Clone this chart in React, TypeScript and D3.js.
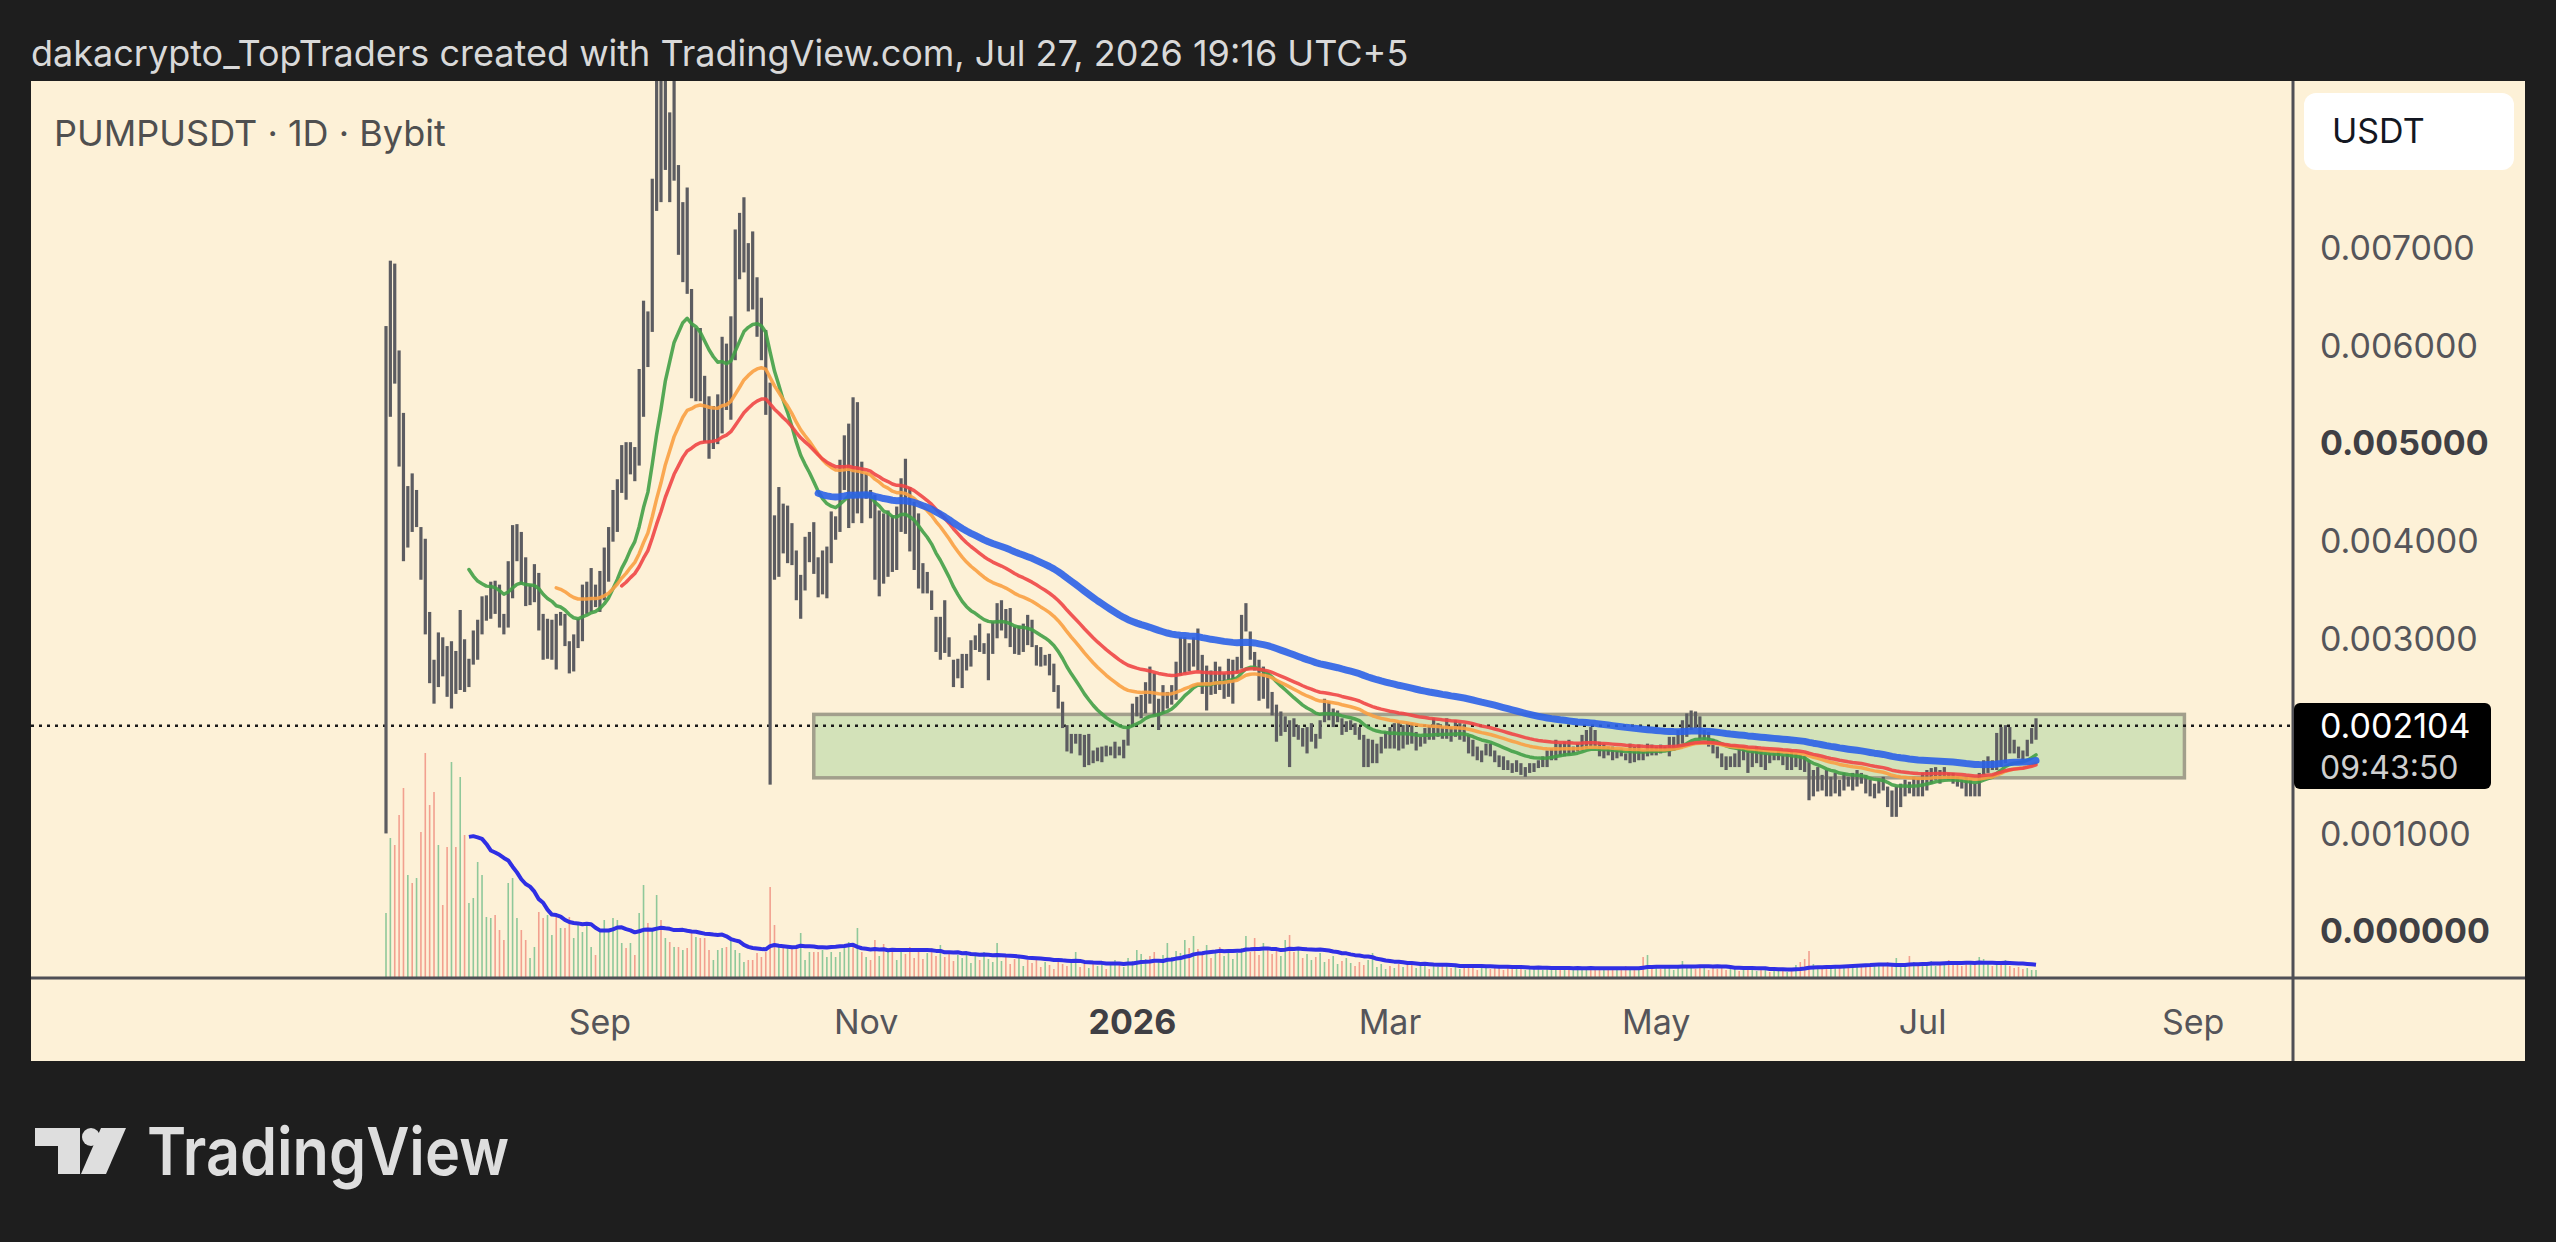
import React, { useRef, useEffect } from "react";
import * as d3 from "d3";

// PUMPUSDT 1D Bybit, one bar per day from Jul 14 2025. Prices in 0.001 USDT.
const firstDay = Date.UTC(2025, 6, 14);

const highs = [
  6.2, 6.87, 6.84, 5.95, 5.31, 4.56, 4.69, 4.52, 4.14, 4.02,
  3.27, 2.78, 3.06, 3.01, 2.92, 2.97, 2.87, 3.29, 2.99, 2.79,
  3.08, 3.19, 3.43, 3.44, 3.58, 3.59, 3.55, 3.25, 3.79, 4.16,
  4.17, 4.09, 3.83, 3.55, 3.76, 3.67, 3.25, 3.2, 3.19, 3.25,
  3.27, 3.25, 2.97, 3.04, 3.2, 3.55, 3.58, 3.72, 3.55, 3.69,
  3.93, 4.14, 4.52, 4.63, 4.98, 5.01, 5.01, 4.96, 5.76, 6.46,
  6.35, 7.71, 8.9, 8.85, 8.8, 8.39, 8.8, 7.85, 7.47, 7.62,
  6.58, 6.18, 6.18, 5.69, 5.48, 5.38, 5.5, 6.09, 6.02, 6.3,
  7.19, 7.36, 7.52, 7.05, 7.17, 6.7, 6.49, 6.16, 5.62, 4.26,
  4.55, 4.38, 4.36, 4.18, 3.9, 3.65, 4.04, 4.09, 4.19, 3.83,
  3.9, 3.94, 4.3, 4.25, 4.83, 5.08, 5.2, 5.47, 5.42, 4.81,
  4.69, 4.52, 4.47, 4.31, 4.28, 4.31, 4.26, 4.35, 4.64, 4.84,
  4.55, 4.4, 4.28, 3.77, 3.68, 3.49, 3.22, 3.22, 3.39, 3.01,
  2.78, 2.79, 2.84, 2.84, 2.98, 3.03, 3.15, 2.95, 3.05, 3.17,
  3.36, 3.39, 3.3, 3.31, 3.12, 3.13, 3.15, 3.24, 3.19, 2.93,
  2.91, 2.83, 2.84, 2.74, 2.52, 2.35, 2.11, 2.02, 2.02, 2.02,
  2.01, 2.02, 1.85, 1.88, 1.89, 1.9, 1.89, 1.94, 1.89, 1.96,
  2.09, 2.33, 2.4, 2.42, 2.55, 2.71, 2.64, 2.38, 2.52, 2.45,
  2.52, 2.76, 3.01, 3.01, 2.95, 3.01, 3.1, 2.83, 2.72, 2.67,
  2.76, 2.71, 2.64, 2.79, 2.78, 2.81, 3.24, 3.36, 3.07, 2.86,
  2.78, 2.71, 2.64, 2.45, 2.32, 2.25, 2.2, 2.16, 2.18, 2.11,
  2.08, 2.09, 2.13, 2.02, 2.16, 2.38, 2.35, 2.28, 2.26, 2.18,
  2.15, 2.16, 2.13, 2.09, 2.01, 1.97, 1.96, 1.92, 1.99, 2.04,
  2.09, 2.13, 2.14, 2.11, 2.13, 2.13, 2.04, 1.99, 2.08, 2.11,
  2.18, 2.13, 2.09, 2.18, 2.09, 2.16, 2.13, 2.11, 2.01, 1.96,
  1.89, 1.85, 1.92, 1.92, 1.85, 1.8, 1.79, 1.75, 1.72, 1.75,
  1.72, 1.68, 1.72, 1.72, 1.75, 1.79, 1.85, 1.87, 1.96, 1.92,
  1.94, 1.96, 1.89, 1.92, 2.01, 2.06, 2.09, 2.06, 1.94, 1.92,
  1.89, 1.89, 1.85, 1.87, 1.82, 1.92, 1.89, 1.91, 1.85, 1.92,
  1.91, 1.89, 1.91, 1.89, 1.99, 1.99, 2.06, 2.16, 2.23, 2.26,
  2.25, 2.2, 2.06, 2.04, 1.97, 1.89, 1.82, 1.79, 1.79, 1.82,
  1.87, 1.89, 1.85, 1.84, 1.89, 1.85, 1.82, 1.82, 1.82, 1.85,
  1.8, 1.82, 1.85, 1.82, 1.8, 1.79, 1.75, 1.65, 1.68, 1.6,
  1.65, 1.58, 1.62, 1.55, 1.62, 1.58, 1.62, 1.65, 1.62, 1.6,
  1.55, 1.51, 1.55, 1.58, 1.48, 1.44, 1.48, 1.51, 1.55, 1.53,
  1.58, 1.56, 1.62, 1.65, 1.67, 1.68, 1.65, 1.68, 1.62, 1.62,
  1.58, 1.55, 1.58, 1.55, 1.51, 1.62, 1.75, 1.79, 1.75, 2.03,
  2.09, 2.11, 2.09, 1.96, 1.89, 1.85, 1.96, 2.08, 2.18,
];

const lows = [
  1.0, 5.27, 5.61, 4.76, 3.79, 3.93, 4.09, 4.14, 3.6, 3.04,
  2.54, 2.33, 2.5, 2.61, 2.4, 2.28, 2.43, 2.47, 2.45, 2.5,
  2.73, 2.78, 3.04, 3.18, 3.2, 3.25, 3.11, 3.04, 3.11, 3.41,
  3.79, 3.55, 3.33, 3.34, 3.37, 3.08, 2.78, 2.79, 2.78, 2.68,
  3.13, 2.92, 2.64, 2.66, 2.9, 2.97, 3.25, 3.27, 3.32, 3.27,
  3.39, 3.58, 3.99, 4.09, 4.49, 4.42, 4.68, 4.61, 4.77, 5.27,
  5.78, 6.14, 7.38, 7.47, 7.8, 7.47, 7.69, 6.93, 6.65, 6.53,
  5.46, 5.43, 5.43, 5.01, 4.84, 4.94, 4.99, 5.1, 5.34, 5.24,
  5.85, 6.68, 6.75, 6.35, 6.37, 6.09, 5.85, 5.29, 1.5, 3.6,
  3.63, 3.87, 3.77, 3.75, 3.39, 3.2, 3.49, 3.78, 3.66, 3.42,
  3.45, 3.41, 3.77, 4.01, 4.09, 4.52, 4.13, 4.18, 4.28, 4.18,
  4.43, 4.23, 3.6, 3.43, 3.56, 3.63, 3.68, 3.7, 4.09, 4.07,
  3.89, 3.7, 3.51, 3.46, 3.46, 3.29, 2.86, 2.78, 2.85, 2.81,
  2.5, 2.59, 2.49, 2.67, 2.71, 2.88, 2.86, 2.84, 2.57, 2.84,
  3.0, 3.08, 3.0, 2.91, 2.84, 2.83, 2.86, 2.93, 2.91, 2.72,
  2.71, 2.72, 2.62, 2.45, 2.28, 2.08, 1.84, 1.82, 1.92, 1.8,
  1.68, 1.7, 1.72, 1.74, 1.73, 1.79, 1.8, 1.77, 1.8, 1.77,
  1.9, 2.09, 2.2, 2.18, 2.23, 2.33, 2.21, 2.06, 2.23, 2.28,
  2.32, 2.37, 2.62, 2.64, 2.66, 2.71, 2.67, 2.43, 2.26, 2.42,
  2.43, 2.47, 2.38, 2.4, 2.33, 2.64, 2.69, 3.07, 2.78, 2.67,
  2.36, 2.38, 2.28, 2.21, 1.94, 2.0, 2.04, 1.68, 1.99, 1.96,
  1.89, 1.82, 1.94, 1.87, 1.97, 2.14, 2.16, 2.09, 2.14, 2.01,
  2.04, 2.06, 2.01, 1.96, 1.68, 1.68, 1.72, 1.72, 1.82, 1.87,
  1.87, 1.87, 1.85, 1.87, 1.91, 1.92, 1.85, 1.89, 1.92, 1.96,
  1.96, 1.99, 1.97, 1.97, 1.94, 1.99, 1.96, 1.94, 1.82, 1.79,
  1.75, 1.73, 1.8, 1.79, 1.73, 1.68, 1.65, 1.65, 1.62, 1.63,
  1.6, 1.58, 1.62, 1.63, 1.67, 1.68, 1.68, 1.75, 1.75, 1.79,
  1.79, 1.8, 1.82, 1.84, 1.85, 1.87, 1.89, 1.89, 1.79, 1.77,
  1.8, 1.75, 1.77, 1.79, 1.75, 1.72, 1.73, 1.75, 1.75, 1.79,
  1.8, 1.8, 1.82, 1.84, 1.79, 1.85, 1.89, 1.92, 1.99, 2.06,
  2.08, 1.97, 1.96, 1.89, 1.82, 1.77, 1.68, 1.65, 1.68, 1.68,
  1.68, 1.75, 1.62, 1.68, 1.72, 1.68, 1.65, 1.72, 1.75, 1.75,
  1.7, 1.65, 1.65, 1.68, 1.65, 1.63, 1.34, 1.38, 1.43, 1.44,
  1.38, 1.38, 1.41, 1.38, 1.44, 1.48, 1.44, 1.48, 1.51, 1.41,
  1.38, 1.36, 1.41, 1.44, 1.27, 1.17, 1.17, 1.27, 1.38, 1.41,
  1.38, 1.38, 1.38, 1.44, 1.51, 1.55, 1.51, 1.58, 1.55, 1.51,
  1.48, 1.46, 1.38, 1.38, 1.38, 1.38, 1.6, 1.62, 1.65, 1.65,
  1.68, 1.72, 1.82, 1.82, 1.77, 1.75, 1.79, 1.92, 1.96,
];

const closes = [
  5.9, 6.6, 5.8, 5.0, 4.1, 4.4, 4.2, 4.2, 3.7, 3.2,
  2.7, 2.6, 2.9, 2.7, 2.5, 2.8, 2.6, 2.9, 2.6, 2.7,
  3.0, 3.1, 3.3, 3.3, 3.5, 3.4, 3.2, 3.1, 3.7, 3.9,
  3.9, 3.7, 3.4, 3.5, 3.5, 3.2, 2.9, 3.0, 3.1, 2.9,
  3.2, 3.0, 2.8, 2.9, 3.1, 3.4, 3.4, 3.5, 3.4, 3.6,
  3.8, 4.0, 4.4, 4.5, 4.8, 4.6, 4.9, 4.8, 5.6, 6.2,
  6.0, 7.5, 8.0, 7.8, 8.4, 7.7, 7.9, 7.1, 7.2, 6.7,
  5.7, 5.9, 5.6, 5.2, 5.1, 5.2, 5.3, 5.9, 5.6, 6.1,
  6.9, 7.0, 7.1, 6.6, 6.5, 6.3, 6.0, 5.5, 4.0, 3.9,
  4.2, 4.0, 4.1, 3.8, 3.5, 3.6, 3.9, 3.9, 3.7, 3.6,
  3.7, 3.9, 4.1, 4.2, 4.7, 4.8, 4.9, 4.4, 4.6, 4.5,
  4.5, 4.3, 3.8, 4.0, 3.8, 4.1, 3.9, 4.2, 4.5, 4.3,
  4.0, 3.9, 3.6, 3.5, 3.5, 3.3, 3.0, 3.1, 2.9, 2.8,
  2.6, 2.7, 2.7, 2.8, 2.9, 3.0, 2.9, 2.9, 3.0, 3.1,
  3.2, 3.2, 3.1, 3.0, 2.9, 3.0, 3.1, 3.0, 2.95, 2.8,
  2.75, 2.75, 2.65, 2.5, 2.3, 2.1, 1.9, 1.95, 1.95, 1.85,
  1.75, 1.8, 1.78, 1.8, 1.85, 1.82, 1.86, 1.9, 1.85, 1.93,
  2.05, 2.3, 2.3, 2.35, 2.5, 2.4, 2.3, 2.3, 2.4, 2.4,
  2.5, 2.7, 2.8, 2.9, 2.8, 2.9, 2.8, 2.5, 2.6, 2.5,
  2.7, 2.6, 2.6, 2.7, 2.7, 2.75, 3.1, 3.1, 2.85, 2.7,
  2.5, 2.5, 2.4, 2.25, 2.1, 2.1, 2.1, 2.05, 2.0, 2.0,
  1.95, 2.0, 2.05, 1.95, 2.1, 2.3, 2.2, 2.2, 2.2, 2.05,
  2.1, 2.1, 2.05, 2.0, 1.75, 1.8, 1.85, 1.9, 1.95, 2.0,
  1.95, 2.05, 1.95, 2.05, 2.0, 1.95, 1.95, 1.95, 2.05, 2.0,
  2.05, 2.05, 2.0, 2.05, 2.0, 2.05, 2.05, 2.0, 1.9, 1.85,
  1.8, 1.8, 1.85, 1.82, 1.75, 1.72, 1.7, 1.68, 1.66, 1.7,
  1.64, 1.65, 1.68, 1.7, 1.73, 1.76, 1.8, 1.82, 1.9, 1.85,
  1.9, 1.85, 1.86, 1.9, 1.97, 2.0, 1.95, 1.9, 1.82, 1.85,
  1.84, 1.8, 1.82, 1.8, 1.78, 1.85, 1.8, 1.85, 1.8, 1.88,
  1.85, 1.86, 1.85, 1.87, 1.95, 1.95, 2.0, 2.1, 2.15, 2.2,
  2.1, 2.0, 2.0, 1.92, 1.85, 1.8, 1.72, 1.7, 1.75, 1.8,
  1.78, 1.8, 1.7, 1.78, 1.8, 1.75, 1.78, 1.76, 1.78, 1.8,
  1.75, 1.78, 1.72, 1.75, 1.7, 1.68, 1.45, 1.5, 1.55, 1.5,
  1.45, 1.5, 1.55, 1.45, 1.55, 1.52, 1.55, 1.58, 1.55, 1.47,
  1.42, 1.45, 1.5, 1.48, 1.35, 1.25, 1.4, 1.45, 1.5, 1.45,
  1.52, 1.5, 1.58, 1.6, 1.62, 1.65, 1.6, 1.63, 1.58, 1.55,
  1.52, 1.5, 1.45, 1.5, 1.45, 1.6, 1.7, 1.72, 1.7, 2.0,
  1.95, 2.05, 1.9, 1.85, 1.8, 1.78, 1.92, 2.0, 2.104,
];

// daily volume, arbitrary units
const volumes = [
  65, 140, 133, 163, 190, 103, 95, 100, 146, 225,
  173, 186, 133, 73, 131, 216, 131, 201, 143, 75,
  80, 116, 103, 61, 60, 63, 48, 38, 95, 100,
  60, 48, 38, 20, 31, 66, 60, 63, 43, 65,
  50, 50, 61, 40, 53, 46, 56, 31, 23, 48,
  58, 48, 60, 58, 35, 30, 35, 23, 65, 93,
  55, 48, 83, 58, 40, 36, 31, 31, 28, 30,
  45, 41, 40, 40, 28, 18, 28, 30, 31, 38,
  28, 25, 16, 18, 18, 25, 21, 26, 91, 53,
  31, 31, 31, 30, 31, 45, 18, 26, 26, 26,
  28, 21, 26, 21, 26, 33, 36, 33, 50, 26,
  21, 18, 38, 22, 34, 26, 30, 18, 27, 24,
  31, 20, 28, 19, 25, 30, 22, 33, 21, 26,
  17, 23, 20, 24, 15, 22, 18, 26, 19, 16,
  35, 17, 21, 14, 19, 23, 12, 18, 15, 20,
  11, 16, 13, 9, 17, 14, 12, 19, 26, 11,
  15, 10, 14, 12, 16, 9, 13, 18, 15, 11,
  20, 17, 28, 24, 19, 22, 26, 18, 23, 35,
  21, 27, 25, 38, 30, 42, 29, 24, 33, 20,
  28, 31, 22, 27, 19, 25, 30, 42, 26, 40,
  23, 35, 28, 24, 30, 22, 38, 43, 26, 31,
  20, 24, 18, 21, 25, 16, 19, 22, 14, 17,
  20, 15, 12, 16, 13, 18, 25, 11, 14, 9,
  12, 10, 14, 11, 13, 15, 10, 12, 16, 9,
  13, 11, 15, 12, 10, 13, 9, 14, 11, 12,
  8, 10, 11, 9, 12, 10, 8, 11, 13, 9,
  10, 8, 10, 9, 11, 8, 12, 10, 9, 11,
  8, 10, 9, 11, 10, 8, 12, 9, 10, 11,
  8, 10, 9, 10, 12, 8, 11, 9, 21, 23,
  10, 12, 9, 11, 10, 8, 12, 17, 11, 10,
  9, 12, 10, 8, 11, 9, 10, 8, 9, 11,
  7, 9, 8, 10, 7, 9, 8, 6, 9, 7,
  8, 6, 9, 13, 16, 19, 27, 14, 12, 11,
  10, 13, 11, 12, 10, 13, 12, 11, 14, 12,
  13, 15, 12, 14, 16, 13, 20, 15, 12, 22,
  16, 14, 13, 15, 17, 12, 16, 14, 18, 13,
  15, 12, 16, 14, 13, 21, 19, 15, 12, 16,
  14, 18, 12, 10, 11, 9, 10, 8, 8,
];

const maPeriods = [20, 40, 55, 100];
const maColors = ["#43a047", "#f9a043", "#ef4646", "#2b62e8"];
const maWidths = [3.5, 3.5, 3.5, 7];
const volumeMaPeriod = 20;

const monthTicks = [
  { date: Date.UTC(2025, 8, 1), label: "Sep", bold: false },
  { date: Date.UTC(2025, 10, 1), label: "Nov", bold: false },
  { date: Date.UTC(2026, 0, 1), label: "2026", bold: true },
  { date: Date.UTC(2026, 2, 1), label: "Mar", bold: false },
  { date: Date.UTC(2026, 4, 1), label: "May", bold: false },
  { date: Date.UTC(2026, 6, 1), label: "Jul", bold: false },
  { date: Date.UTC(2026, 8, 1), label: "Sep", bold: false },
];
// 0.002 is hidden behind the last-price label
const priceTicks = [0, 1, 3, 4, 5, 6, 7];
const boldTicks = [0, 5];

const lastPrice = 2.104;
const countdown = "09:43:50";
// support/resistance range box
const zoneFrom = Date.UTC(2025, 9, 20);
const zoneTo = Date.UTC(2026, 7, 30);
const zoneTop = 2.22;
const zoneBottom = 1.57;

const W = 2556;
const H = 1242;
const FONT = "Inter, 'Noto Sans', sans-serif";

function ema(src: number[], n: number) {
  const k = 2 / (n + 1);
  let prev = 0;
  return src.map((v, i) => {
    if (i < n - 1) return null;
    prev = i === n - 1 ? d3.mean(src.slice(0, n))! : v * k + prev * (1 - k);
    return prev;
  });
}

function sma(src: number[], n: number) {
  return src.map((_, i) => (i < n - 1 ? null : d3.mean(src.slice(i - n + 1, i + 1))!));
}

const App: React.FC = () => {
  const svgRef = useRef<SVGSVGElement>(null);

  useEffect(() => {
    if (!svgRef.current) return;
    document.body.style.margin = "0";
    const svg = d3.select(svgRef.current);
    svg.selectAll("*").remove();

    const plot = { left: 31, top: 81, right: 2293, bottom: 978 };
    const panelRight = 2525;
    const panelBottom = 1061;

    const dates = highs.map((_, i) => new Date(firstDay + i * 86400000));
    const x = d3
      .scaleUtc()
      .domain([new Date(firstDay), dates[dates.length - 1]])
      .range([386, 2036]);
    const y = d3.scaleLinear().domain([0, 7]).range([931, 248]);
    const v = d3.scaleLinear().domain([0, 100]).range([plot.bottom, plot.bottom - 100]);

    // background + panel
    svg.append("rect").attr("width", W).attr("height", H).attr("fill", "#1e1e1e");
    svg
      .append("rect")
      .attr("x", plot.left)
      .attr("y", plot.top)
      .attr("width", panelRight - plot.left)
      .attr("height", panelBottom - plot.top)
      .attr("fill", "#fdf1d7");

    svg
      .append("text")
      .attr("x", 31)
      .attr("y", 66)
      .attr("font-family", FONT)
      .attr("font-size", 36)
      .attr("fill", "#d9d9d9")
      .text("dakacrypto_TopTraders created with TradingView.com, Jul 27, 2026 19:16 UTC+5");

    svg
      .append("defs")
      .append("clipPath")
      .attr("id", "plot-clip")
      .append("rect")
      .attr("x", plot.left)
      .attr("y", plot.top)
      .attr("width", plot.right - plot.left)
      .attr("height", plot.bottom - plot.top);

    const g = svg.append("g").attr("clip-path", "url(#plot-clip)");

    // range box
    g.append("rect")
      .attr("x", x(new Date(zoneFrom)))
      .attr("y", y(zoneTop))
      .attr("width", x(new Date(zoneTo)) - x(new Date(zoneFrom)))
      .attr("height", y(zoneBottom) - y(zoneTop))
      .attr("fill", "#d3e2b9")
      .attr("stroke", "#a29f8c")
      .attr("stroke-width", 3.5);

    // volume
    g.append("g")
      .selectAll("rect")
      .data(volumes)
      .join("rect")
      .attr("x", (_, i) => x(dates[i]) - 0.8)
      .attr("width", 1.6)
      .attr("y", (d) => v(d))
      .attr("height", (d) => plot.bottom - v(d))
      .attr("fill", (_, i) =>
        i === 0 || closes[i] >= closes[i - 1] ? "#8fc89a" : "#f2a08f"
      );

    const volMa = sma(volumes, volumeMaPeriod);
    g.append("path")
      .datum(volMa)
      .attr("fill", "none")
      .attr("stroke", "#2f2fe4")
      .attr("stroke-width", 4)
      .attr("stroke-linejoin", "round")
      .attr(
        "d",
        d3
          .line<number | null>()
          .defined((d) => d != null)
          .x((_, i) => x(dates[i]))
          .y((d) => v(d as number))
      );

    // last price dotted line
    g.append("line")
      .attr("x1", plot.left)
      .attr("x2", plot.right)
      .attr("y1", y(lastPrice))
      .attr("y2", y(lastPrice))
      .attr("stroke", "#1a1a1a")
      .attr("stroke-width", 2.5)
      .attr("stroke-dasharray", "3 5");

    // daily bars
    g.append("g")
      .selectAll("rect")
      .data(highs)
      .join("rect")
      .attr("x", (_, i) => x(dates[i]) - 1.6)
      .attr("width", 3.2)
      .attr("y", (d) => y(d))
      .attr("height", (d, i) => Math.max(1.5, y(lows[i]) - y(d)))
      .attr("fill", "#5c5c61");

    // moving averages
    maPeriods.forEach((p, k) => {
      const ma = ema(closes, p);
      g.append("path")
        .datum(ma)
        .attr("fill", "none")
        .attr("stroke", maColors[k])
        .attr("stroke-width", maWidths[k])
        .attr("stroke-opacity", 0.9)
        .attr("stroke-linejoin", "round")
        .attr("stroke-linecap", "round")
        .attr(
          "d",
          d3
            .line<number | null>()
            .defined((d) => d != null)
            .x((_, i) => x(dates[i]))
            .y((d) => y(d as number))
        );
    });

    // symbol label
    svg
      .append("text")
      .attr("x", 54)
      .attr("y", 146)
      .attr("font-family", FONT)
      .attr("font-size", 36)
      .attr("fill", "#4f4f4f")
      .text("PUMPUSDT · 1D · Bybit");

    // axes lines
    svg
      .append("line")
      .attr("x1", plot.right)
      .attr("x2", plot.right)
      .attr("y1", plot.top)
      .attr("y2", panelBottom)
      .attr("stroke", "#4f4f55")
      .attr("stroke-width", 3);
    svg
      .append("line")
      .attr("x1", plot.left)
      .attr("x2", panelRight)
      .attr("y1", plot.bottom)
      .attr("y2", plot.bottom)
      .attr("stroke", "#4f4f55")
      .attr("stroke-width", 3);

    // price ticks
    svg
      .append("g")
      .selectAll("text")
      .data(priceTicks)
      .join("text")
      .attr("x", 2320)
      .attr("y", (d) => y(d))
      .attr("dy", "0.36em")
      .attr("font-family", FONT)
      .attr("font-size", 34)
      .attr("font-weight", (d) => (boldTicks.includes(d) ? 700 : 400))
      .attr("fill", (d) => (boldTicks.includes(d) ? "#3f3f44" : "#55555a"))
      .text((d) => (d / 1000).toFixed(6));

    // time ticks
    svg
      .append("g")
      .selectAll("text")
      .data(monthTicks)
      .join("text")
      .attr("x", (d) => x(new Date(d.date)))
      .attr("y", 1022)
      .attr("dy", "0.36em")
      .attr("text-anchor", "middle")
      .attr("font-family", FONT)
      .attr("font-size", 34)
      .attr("font-weight", (d) => (d.bold ? 700 : 400))
      .attr("fill", (d) => (d.bold ? "#3f3f44" : "#55555a"))
      .text((d) => d.label);

    // currency box
    svg
      .append("rect")
      .attr("x", 2304)
      .attr("y", 93)
      .attr("width", 210)
      .attr("height", 77)
      .attr("rx", 12)
      .attr("fill", "#ffffff");
    svg
      .append("text")
      .attr("x", 2332)
      .attr("y", 131)
      .attr("dy", "0.36em")
      .attr("font-family", FONT)
      .attr("font-size", 34)
      .attr("fill", "#131722")
      .text("USDT");

    // last price label
    svg
      .append("rect")
      .attr("x", 2294)
      .attr("y", 703)
      .attr("width", 197)
      .attr("height", 86)
      .attr("rx", 6)
      .attr("fill", "#000000");
    svg
      .append("text")
      .attr("x", 2320)
      .attr("y", 726)
      .attr("dy", "0.36em")
      .attr("font-family", FONT)
      .attr("font-size", 34)
      .attr("fill", "#ffffff")
      .text((lastPrice / 1000).toFixed(6));
    svg
      .append("text")
      .attr("x", 2320)
      .attr("y", 767)
      .attr("dy", "0.36em")
      .attr("font-family", FONT)
      .attr("font-size", 32)
      .attr("fill", "#cfcfcf")
      .text(countdown);

    // TradingView logo
    const logo = svg.append("g").attr("fill", "#dedede");
    logo.append("path").attr("d", "M35,1128 H80 V1174 H58 V1146 H35 Z");
    logo.append("circle").attr("cx", 91).attr("cy", 1137).attr("r", 9);
    logo.append("path").attr("d", "M101,1128 H126 L106,1174 H81 Z");
    logo
      .append("text")
      .attr("x", 147)
      .attr("y", 1175)
      .attr("font-family", FONT)
      .attr("font-size", 66)
      .attr("font-weight", 600)
      .attr("textLength", 362)
      .attr("lengthAdjust", "spacingAndGlyphs")
      .text("TradingView");

    return () => {
      svg.selectAll("*").remove();
    };
  }, []);

  return (
    <svg
      ref={svgRef}
      width={W}
      height={H}
      style={{ display: "block", position: "absolute", left: 0, top: 0 }}
    />
  );
};

export default App;
